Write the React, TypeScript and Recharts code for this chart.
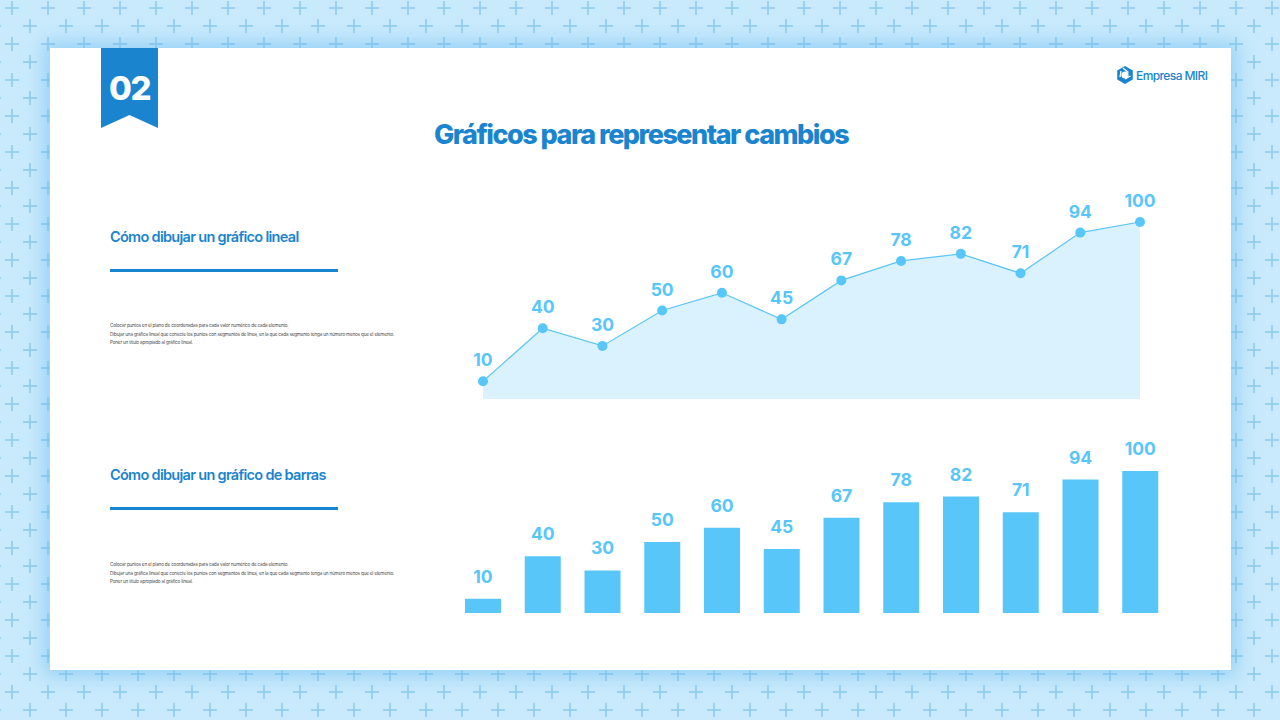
import React from 'react';
import { AreaChart, Area, BarChart, Bar, XAxis, YAxis, LabelList } from 'recharts';

const categories = ['1', '2', '3', '4', '5', '6', '7', '8', '9', '10', '11', '12'];
const lineValues = [10, 40, 30, 50, 60, 45, 67, 78, 82, 71, 94, 100];
const barValues = [10, 40, 30, 50, 60, 45, 67, 78, 82, 71, 94, 100];

const pageTitle = 'Gráficos para representar cambios';
const badgeText = '02';
const brandText = 'Empresa MIRI';
const lineHeading = 'Cómo dibujar un gráfico lineal';
const barHeading = 'Cómo dibujar un gráfico de barras';
const bodyLines = [
  'Colocar puntos en el plano de coordenadas para cada valor numérico de cada elemento.',
  'Dibujar una gráfica lineal que conecte los puntos con segmentos de línea, en la que cada segmento tenga un número menos que el elemento.',
  'Poner un título apropiado al gráfico lineal.',
];

const lineData = categories.map((c, i) => ({ name: c, value: lineValues[i] }));
const barData = categories.map((c, i) => ({ name: c, value: barValues[i] }));

const BLUE = '#1a84cf';
const SKY = '#58c6f9';
const FONT = 'Inter, "Open Sans", sans-serif';

function Background() {
  return (
    <svg width={1280} height={720} style={{ position: 'absolute', left: 0, top: 0 }}>
      <defs>
        <pattern id="plus" x={0} y={0} width={36} height={36} patternUnits="userSpaceOnUse">
          <g stroke="#8ecbee" strokeWidth={1.6}>
            <line x1={5} y1={8} x2={19} y2={8} />
            <line x1={12} y1={1} x2={12} y2={15} />
            <line x1={23} y1={26} x2={37} y2={26} />
            <line x1={30} y1={19} x2={30} y2={33} />
            <line x1={-13} y1={26} x2={1} y2={26} />
          </g>
        </pattern>
      </defs>
      <rect x={0} y={0} width={1280} height={720} fill="#c9eafc" />
      <rect x={0} y={0} width={1280} height={720} fill="url(#plus)" />
    </svg>
  );
}

function Paragraph({ top }: { top: number }) {
  return (
    <div style={{ position: 'absolute', left: 110, top, fontFamily: FONT, fontSize: 4.6, lineHeight: '8.6px', color: '#4a4a4a', letterSpacing: -0.17, whiteSpace: 'nowrap' }}>
      {bodyLines.map((l, i) => (
        <div key={i}>{l}</div>
      ))}
    </div>
  );
}

export default function App() {
  return (
    <div style={{ position: 'absolute', left: 0, top: 0, width: 1280, height: 720, overflow: 'hidden', fontFamily: FONT }}>
      <Background />
      <div style={{ position: 'absolute', left: 50, top: 48, width: 1181, height: 622, background: '#ffffff', boxShadow: '0 0 18px 6px rgba(110,190,240,0.55)' }} />

      {/* badge */}
      <svg width={1280} height={720} style={{ position: 'absolute', left: 0, top: 0 }}>
        <polygon points="101,48 158,48 158,128 129.5,115 101,128" fill={BLUE} />
        <text x={129.5} y={100} textAnchor="middle" fill="#ffffff" fontFamily={FONT} fontWeight={800} fontSize={33} letterSpacing={-1.5}>{badgeText}</text>
        {/* logo icon */}
        <g transform="translate(1125,75)">
          <polygon points="0,-9 7.8,-4.5 7.8,4.5 0,9 -7.8,4.5 -7.8,-4.5" fill={BLUE} />
          <circle cx={0} cy={0} r={3.6} fill="#ffffff" />
          <path d="M-2,-7 L3.5,-2.5 M5.5,1 L0,4 M-5,2 L-4,-4" stroke="#ffffff" strokeWidth={1.3} />
        </g>
        <text x={1136} y={79.5} fill={BLUE} fontFamily={FONT} fontWeight={500} fontSize={12} letterSpacing={-0.6}>{brandText}</text>
      </svg>

      <div style={{ position: 'absolute', left: 0, width: 1282, top: 118, textAlign: 'center', fontFamily: FONT, fontWeight: 800, fontSize: 27, letterSpacing: -1.5, color: BLUE, lineHeight: '34px' }}>
        {pageTitle}
      </div>

      <div style={{ position: 'absolute', left: 110, top: 227, fontFamily: FONT, fontWeight: 600, fontSize: 14.5, letterSpacing: -0.7, color: BLUE, lineHeight: '20px' }}>{lineHeading}</div>
      <div style={{ position: 'absolute', left: 110, top: 269, width: 228, height: 2.5, background: BLUE }} />
      <Paragraph top={322} />

      <div style={{ position: 'absolute', left: 110, top: 465, fontFamily: FONT, fontWeight: 600, fontSize: 14.5, letterSpacing: -0.7, color: BLUE, lineHeight: '20px' }}>{barHeading}</div>
      <div style={{ position: 'absolute', left: 110, top: 507, width: 228, height: 2.5, background: BLUE }} />
      <Paragraph top={561} />

      <div style={{ position: 'absolute', left: 443, top: 170 }}>
        <AreaChart width={737} height={240} data={lineData} margin={{ top: 52, right: 40, left: 40, bottom: 11 }}>
          <XAxis dataKey="name" hide />
          <YAxis hide domain={[0, 100]} />
          <Area
            type="linear"
            dataKey="value"
            stroke="#5cc5f5"
            strokeWidth={1.2}
            fill="#daf2fd"
            fillOpacity={1}
            dot={{ r: 5, fill: SKY, stroke: 'none' }}
            activeDot={false}
            isAnimationActive={false}
          >
            <LabelList dataKey="value" position="top" offset={15} fill={SKY} fontFamily={FONT} fontWeight={700} fontSize={17.5} />
          </Area>
        </AreaChart>
      </div>

      <div style={{ position: 'absolute', left: 443, top: 420 }}>
        <BarChart width={737} height={200} data={barData} margin={{ top: 51, right: 10, left: 10, bottom: 7 }} barCategoryGap={0}>
          <XAxis dataKey="name" hide />
          <YAxis hide domain={[0, 100]} />
          <Bar dataKey="value" fill={SKY} barSize={36} isAnimationActive={false}>
            <LabelList dataKey="value" position="top" offset={16} fill={SKY} fontFamily={FONT} fontWeight={700} fontSize={17.5} />
          </Bar>
        </BarChart>
      </div>
    </div>
  );
}
